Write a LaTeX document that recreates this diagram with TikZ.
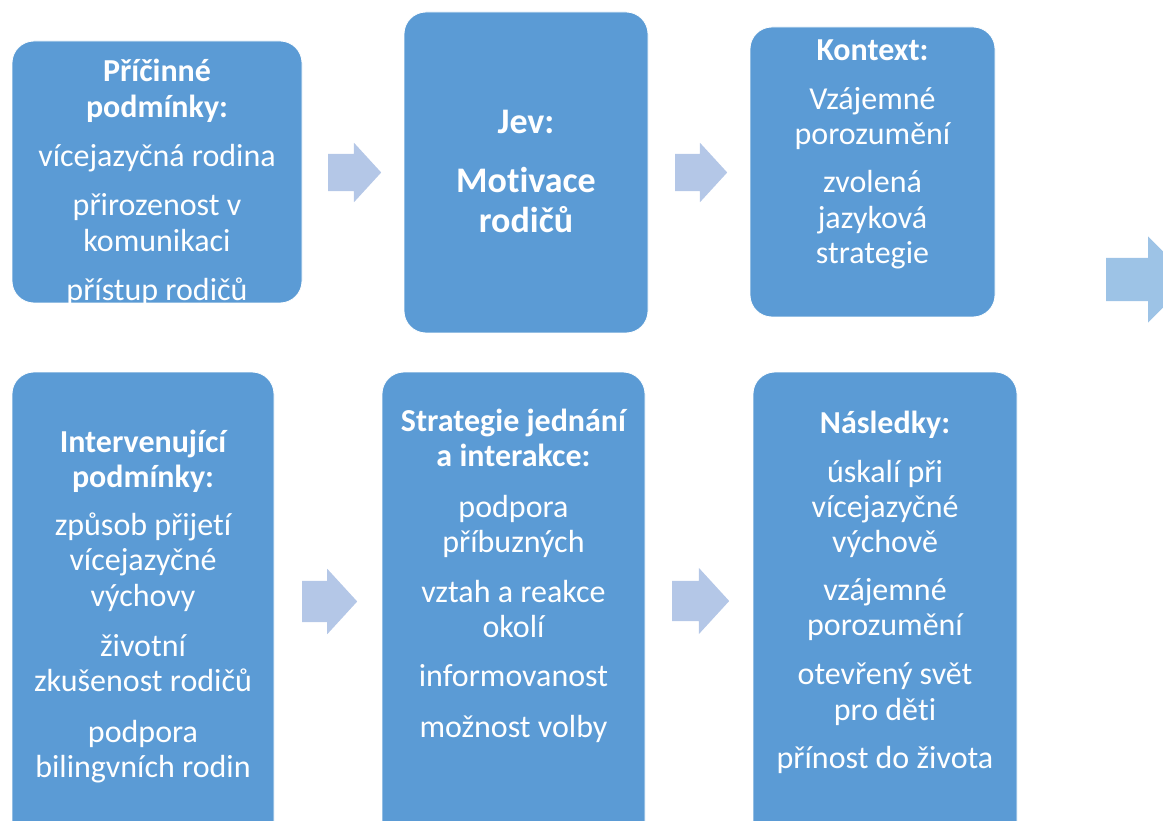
\documentclass[tikz,border=0pt]{standalone}
\usepackage{fontspec}
\setmainfont{Carlito}[Ligatures=NoCommon]
\usetikzlibrary{shapes.arrows}

\definecolor{stageblue}{HTML}{5B9BD5}
\definecolor{flowblue}{HTML}{B4C7E7}
\definecolor{outblue}{HTML}{9DC3E6}

\begin{document}
\begin{tikzpicture}[x=1pt, y=-1pt,
    stage/.style={rectangle, rounded corners=22pt, fill=stageblue, draw=white, line width=0.8pt},
    stagetext/.style={text=white, align=flush center, text width=262pt, inner sep=0pt, anchor=base,
        font=\fontsize{32}{35.3}\selectfont},
    flow/.style={single arrow, fill=flowblue, inner xsep=0pt, anchor=tail, single arrow tip angle=95}]

    % Page area (the lower row runs off the page)
    \clip (0,0) rectangle (1163,821);

    % Upper row
    \node[stage, minimum width=290, minimum height=262] (pricinne) at (157,172) {};
    \node[stage, minimum width=244, minimum height=321] (jev) at (526,172.5) {};
    \node[stage, minimum width=245, minimum height=290] (kontext) at (872.5,172) {};

    \node[stagetext] (pricinneText) at (157,82) {%
        {\bfseries Příčinné\\ podmínky:}\\[14pt]
        vícejazyčná rodina\\[14pt]
        přirozenost v\\ komunikaci\\[14pt]
        přístup rodičů};
    \node[stagetext, font=\fontsize{36}{40}\selectfont\bfseries] (jevText) at (526,134) {%
        Jev:\\[19pt]
        Motivace\\ rodičů};
    \node[stagetext] (kontextText) at (872.5,61) {%
        \textbf{Kontext:}\\[13pt]
        Vzájemné\\ porozumění\\[13pt]
        zvolená\\ jazyková\\ strategie};

    % Lower row
    \node[stage, minimum width=262, minimum height=488] (intervenujici) at (143,616) {};
    \node[stage, minimum width=263, minimum height=488] (strategie) at (513.5,616) {};
    \node[stage, minimum width=264, minimum height=488] (nasledky) at (885,616) {};

    \node[stagetext] (intervenujiciText) at (143,452) {%
        {\bfseries Intervenující\\ podmínky:}\\[13pt]
        způsob přijetí\\ vícejazyčné\\ výchovy\\[15pt]
        životní\\ zkušenost rodičů\\[15pt]
        podpora\\ bilingvních rodin};
    \node[stagetext] (strategieText) at (513.5,431) {%
        {\bfseries Strategie jednání\\ a interakce:}\\[16pt]
        podpora\\ příbuzných\\[14pt]
        vztah a reakce\\ okolí\\[14pt]
        informovanost\\[15pt]
        možnost volby};
    \node[stagetext] (nasledkyText) at (885,433) {%
        \textbf{Následky:}\\[14pt]
        úskalí při\\ vícejazyčné\\ výchově\\[12pt]
        vzájemné\\ porozumění\\[14pt]
        otevřený svět\\ pro děti\\[13pt]
        přínost do života};

    % Block arrows between the stages
    \node[flow, minimum height=53, inner ysep=18.5pt, single arrow head extend=11pt] (arrowA) at (328,172.5) {};
    \node[flow, minimum height=52, inner ysep=18.5pt, single arrow head extend=11pt] (arrowB) at (675,172.5) {};
    \node[flow, fill=outblue, minimum height=85, inner ysep=21.5pt, single arrow head extend=21.5pt,
        single arrow tip angle=90] (arrowC) at (1106,279.5) {};
    \node[flow, minimum height=55, inner ysep=20.5pt, single arrow head extend=12pt] (arrowD) at (302,601.5) {};
    \node[flow, minimum height=57, inner ysep=20pt, single arrow head extend=13pt] (arrowE) at (672,601) {};
\end{tikzpicture}
\end{document}
